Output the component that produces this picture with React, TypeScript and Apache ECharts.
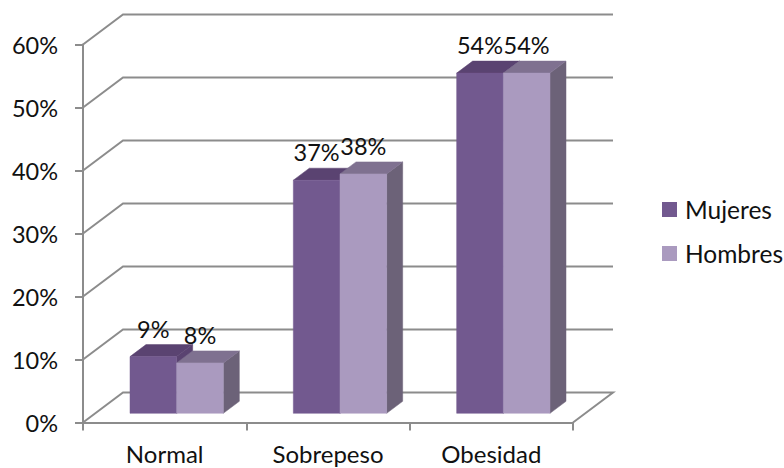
import React, { useEffect, useRef } from "react";
import * as echarts from "echarts";

const categories = ["Normal", "Sobrepeso", "Obesidad"];
const mujeres = [9, 37, 54];
const hombres = [8, 38, 54];
const gridTicks = [0, 10, 20, 30, 40, 50, 60];

const FONT = "Lato";
const FONT_SIZE = 23.5;
const CATEGORY_FONT_SIZE = 24;
const LEGEND_FONT_SIZE = 24.5;
const TEXT_COLOR = "#111111";
const WALL_COLOR = "#8C8C8C";

// Oblique projection of the chart box and of the bars inside it.
const BOX_DX = 40;
const BOX_DY = -30;
const BAR_SHIFT_X = 12;
const BAR_SHIFT_Y = -9.2;
const BAR_DX = 16;
const BAR_DY = -12;

type Palette = { front: string; top: string; side: string };

const mujeresColors: Palette = { front: "#72598F", top: "#5A4371", side: "#5A4371" };
const hombresColors: Palette = { front: "#AA9ABF", top: "#7F7190", side: "#6C6278" };

// Draws one face of a 3D column as a closed polygon.
const face = (points: number[][], fill: string) => ({
  type: "polygon",
  shape: { points },
  style: { fill, stroke: fill, lineWidth: 0.5 },
});

// slot 0 sits left of the category centre, slot 1 right of it.
const columnRenderer = (slot: number, colors: Palette) => (params: any, api: any) => {
  const band = api.size([1, 0])[0];
  const width = (band * 2) / 7;
  const [cx, yTop] = api.coord([api.value(0), api.value(1)]);
  const [, yBase] = api.coord([api.value(0), 0]);
  const x0 = cx + BAR_SHIFT_X + (slot - 1) * width;
  const x1 = x0 + width;
  const top = yTop + BAR_SHIFT_Y;
  const base = yBase + BAR_SHIFT_Y;
  return {
    type: "group",
    children: [
      face(
        [[x1, top], [x1 + BAR_DX, top + BAR_DY], [x1 + BAR_DX, base + BAR_DY], [x1, base]],
        colors.side
      ),
      face(
        [[x0, top], [x0 + BAR_DX, top + BAR_DY], [x1 + BAR_DX, top + BAR_DY], [x1, top]],
        colors.top
      ),
      face([[x0, top], [x1, top], [x1, base], [x0, base]], colors.front),
      {
        type: "text",
        z2: 50,
        style: {
          x: (x0 + x1) / 2,
          y: top - 28,
          text: `${api.value(1)}%`,
          fill: TEXT_COLOR,
          font: `${FONT_SIZE}px ${FONT}`,
          align: "center",
          verticalAlign: "middle",
        },
      },
    ],
  };
};

// Gridlines run along the left wall, then across the back wall; the zero tick also closes the floor.
const wallRenderer = (params: any, api: any) => {
  const value = api.value(0);
  const [xStart, y] = api.coord([0, value]);
  const band = api.size([1, 0])[0];
  const left = xStart - band / 2;
  const right = left + band * categories.length;
  const points =
    value === 0
      ? [[left, y], [left + BOX_DX, y + BOX_DY], [right + BOX_DX, y + BOX_DY], [right, y]]
      : [[left, y], [left + BOX_DX, y + BOX_DY], [right + BOX_DX, y + BOX_DY]];
  return {
    type: "polyline",
    shape: { points },
    style: { stroke: WALL_COLOR, lineWidth: 2, fill: "none" },
  };
};

export default function App() {
  const ref = useRef<HTMLDivElement>(null);

  useEffect(() => {
    const chart = echarts.init(ref.current!, undefined, { renderer: "svg" });
    chart.setOption({
      animation: false,
      backgroundColor: "#FFFFFF",
      grid: { left: 83, right: 211, top: 44.5, bottom: 45.5 },
      legend: {
        orient: "vertical",
        left: 662,
        top: 197,
        padding: 0,
        itemWidth: 15,
        itemHeight: 15,
        itemGap: 19,
        itemStyle: { borderWidth: 0 },
        icon: "rect",
        data: ["Mujeres", "Hombres"],
        textStyle: { fontFamily: FONT, fontSize: LEGEND_FONT_SIZE, color: TEXT_COLOR, padding: [0, 0, 0, 3] },
      },
      xAxis: {
        type: "category",
        data: categories,
        axisLine: { lineStyle: { color: WALL_COLOR, width: 2 } },
        axisTick: { show: true, length: 8, lineStyle: { color: WALL_COLOR, width: 2 } },
        axisLabel: { fontFamily: FONT, fontSize: CATEGORY_FONT_SIZE, color: TEXT_COLOR, margin: 19 },
      },
      yAxis: {
        type: "value",
        min: 0,
        max: 60,
        interval: 10,
        axisLine: { show: true, lineStyle: { color: WALL_COLOR, width: 2 } },
        axisTick: { show: true, length: 8, lineStyle: { color: WALL_COLOR, width: 2 } },
        splitLine: { show: false },
        axisLabel: {
          fontFamily: FONT,
          fontSize: FONT_SIZE,
          color: TEXT_COLOR,
          margin: 25,
          formatter: "{value}%",
          padding: [4, 0, 0, 0],
        },
      },
      series: [
        {
          type: "custom",
          name: "walls",
          renderItem: wallRenderer,
          data: gridTicks.map((t) => [t]),
          encode: { y: 0 },
          silent: true,
          z: 1,
        },
        {
          type: "custom",
          name: "Mujeres",
          renderItem: columnRenderer(0, mujeresColors),
          data: mujeres.map((v, i) => [i, v]),
          encode: { x: 0, y: 1 },
          itemStyle: { color: mujeresColors.front },
          z: 2,
        },
        {
          type: "custom",
          name: "Hombres",
          renderItem: columnRenderer(1, hombresColors),
          data: hombres.map((v, i) => [i, v]),
          encode: { x: 0, y: 1 },
          itemStyle: { color: hombresColors.front },
          z: 3,
        },
      ],
    });
    return () => chart.dispose();
  }, []);

  return <div ref={ref} style={{ position: "fixed", left: 0, top: 0, width: 784, height: 468 }} />;
}
